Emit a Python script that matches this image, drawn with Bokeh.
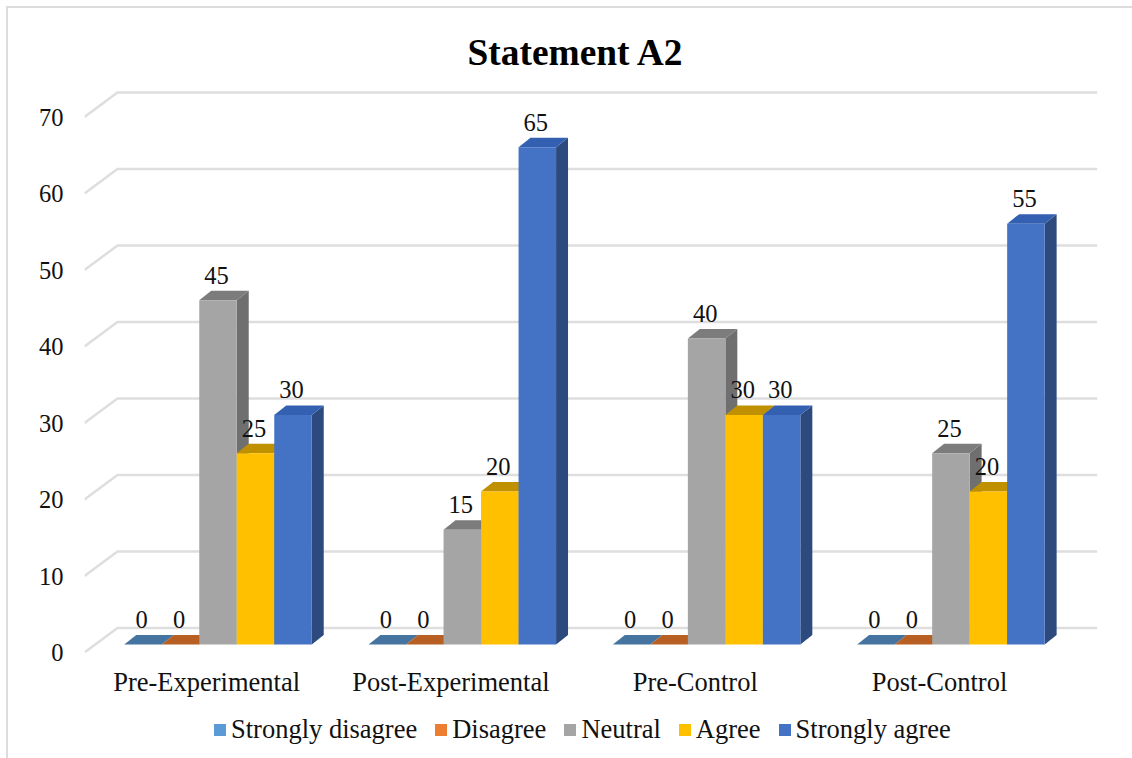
from bokeh.core.properties import value
from bokeh.embed import file_html
from bokeh.layouts import column
from bokeh.models import ColumnDataSource, FixedTicker, Legend, LegendItem, Title
from bokeh.plotting import figure
from bokeh.resources import INLINE

# Survey responses, percent of each group
categories = ["Pre-Experimental", "Post-Experimental", "Pre-Control", "Post-Control"]
strongly_disagree = [0, 0, 0, 0]
disagree = [0, 0, 0, 0]
neutral = [45, 15, 40, 25]
agree = [25, 20, 30, 20]
strongly_agree = [30, 65, 30, 55]
y_ticks = [0, 10, 20, 30, 40, 50, 60, 70]

series_names = ["Strongly disagree", "Disagree", "Neutral", "Agree", "Strongly agree"]
series_values = [strongly_disagree, disagree, neutral, agree, strongly_agree]
front_colors = ["#5b9bd5", "#ed7d31", "#a5a5a5", "#ffc000", "#4472c4"]
top_colors = ["#44749f", "#b85f23", "#7c7c7c", "#bf9000", "#3360b0"]
side_colors = ["#3e6b92", "#a85620", "#6f6f6f", "#ad8300", "#2c4a7e"]

FONT = "Liberation Serif"
NUM_PX = "24.5px"
LABEL_PX = "26.5px"

# Pseudo-3D geometry, in axis units
WALL_DX, WALL_DY = 0.135, 3.2    # front plane to back wall
BAR_DX, BAR_DY = 0.049, 1.25     # depth of a bar
BAR_W = 0.1535
FLOOR_Y = 1.05                   # bars stand this far above the front edge
GROUP_SHIFT = 0.0465
GRID_END = 3.51                  # right end of the front plane

p = figure(
    width=1124, height=700,
    x_range=(-0.5, -0.5 + (1132 - 84) / 244.3),
    y_range=(0, (652 - 85) / 7.65),
    output_backend="svg", toolbar_location=None,
    min_border_left=76, min_border_right=0, min_border_top=77, min_border_bottom=56,
    outline_line_color=None, background_fill_color="white", border_fill_color="white",
)
p.xgrid.visible = False
p.ygrid.visible = False

# Gridlines: along the side wall, then across the back wall
grid_xs = [[-0.5, -0.5 + WALL_DX, GRID_END + WALL_DX] for _ in y_ticks]
grid_ys = [[t, t + WALL_DY, t + WALL_DY] for t in y_ticks]
p.multi_line(grid_xs, grid_ys, line_color="#dedede", line_width=2.5)

for s, vals in enumerate(series_values):
    lefts = [i + GROUP_SHIFT + (s - 2.5) * BAR_W for i in range(len(vals))]
    rights = [x + BAR_W for x in lefts]
    tops = [v + FLOOR_Y for v in vals]

    side_xs = [[r, r + BAR_DX, r + BAR_DX, r] for r in rights]
    side_ys = [[FLOOR_Y, FLOOR_Y + BAR_DY, t + BAR_DY, t] for t in tops]
    p.patches(side_xs, side_ys, fill_color=side_colors[s], line_color=None)

    top_xs = [[l, r, r + BAR_DX, l + BAR_DX] for l, r in zip(lefts, rights)]
    top_ys = [[t, t, t + BAR_DY, t + BAR_DY] for t in tops]
    p.patches(top_xs, top_ys, fill_color=top_colors[s], line_color=None)

    src = ColumnDataSource(dict(left=lefts, right=rights, top=tops, bottom=[FLOOR_Y] * len(vals)))
    p.quad(left="left", right="right", top="top", bottom="bottom", source=src,
           fill_color=front_colors[s], line_color=None)

# Value labels go on after every bar so no bar can cover them
for s, vals in enumerate(series_values):
    xs = [i + GROUP_SHIFT + (s - 2) * BAR_W - 0.006 for i in range(len(vals))]
    ys = [v + FLOOR_Y for v in vals]
    p.text(xs, ys, text=[str(v) for v in vals], y_offset=-25,
           text_font=value(FONT), text_font_size=NUM_PX, text_color="#111111",
           text_align="center", text_baseline="middle")

p.yaxis.ticker = FixedTicker(ticks=y_ticks)
p.yaxis.axis_line_color = None
p.yaxis.major_tick_line_color = None
p.yaxis.minor_tick_line_color = None
p.yaxis.major_label_standoff = 15
p.yaxis.major_label_text_font = FONT
p.yaxis.major_label_text_font_size = NUM_PX
p.yaxis.major_label_text_color = "#111111"

p.xaxis.ticker = FixedTicker(ticks=list(range(len(categories))))
p.xaxis.major_label_overrides = {i: c for i, c in enumerate(categories)}
p.xaxis.axis_line_color = None
p.xaxis.major_tick_line_color = None
p.xaxis.minor_tick_line_color = None
p.xaxis.major_label_standoff = 8
p.xaxis.major_label_text_font = FONT
p.xaxis.major_label_text_font_size = LABEL_PX
p.xaxis.major_label_text_color = "#111111"

title = Title(text="Statement A2", align="left", offset=383, standoff=26,
              text_font=FONT, text_font_size="37.4px", text_font_style="bold", text_color="#000000")
p.add_layout(title, "above")

# Legend strip: its own figure, swatch renderers sit outside its visible range
strip = figure(
    width=1124, height=50, x_range=(0, 1), y_range=(0, 1),
    x_axis_location=None, y_axis_location=None,
    output_backend="svg", toolbar_location=None,
    min_border_left=0, min_border_right=0, min_border_top=0, min_border_bottom=0,
    outline_line_color=None, background_fill_color="white", border_fill_color="white",
)
strip.xgrid.visible = False
strip.ygrid.visible = False
legend_items = []
for name, color in zip(series_names, front_colors):
    swatch = strip.quad(left=[2], right=[3], top=[3], bottom=[2], fill_color=color, line_color=None)
    legend_items.append(LegendItem(label=name, renderers=[swatch]))
strip.add_layout(Legend(
    items=legend_items, orientation="horizontal", location=(128, 13),
    glyph_width=15, glyph_height=15, label_standoff=4, spacing=16, padding=0, margin=0,
    border_line_color=None, background_fill_color=None, background_fill_alpha=0,
    label_text_font=FONT, label_text_font_size=LABEL_PX, label_text_color="#111111",
))

# Chart border: its right and bottom edges run past the page
page = column(p, strip, spacing=0, margin=(6, 0, 0, 6),
              styles={"border-top": "2px solid #dcdcdc", "border-left": "2px solid #dcdcdc"})

open("out.html", "w").write(file_html(page, INLINE))
